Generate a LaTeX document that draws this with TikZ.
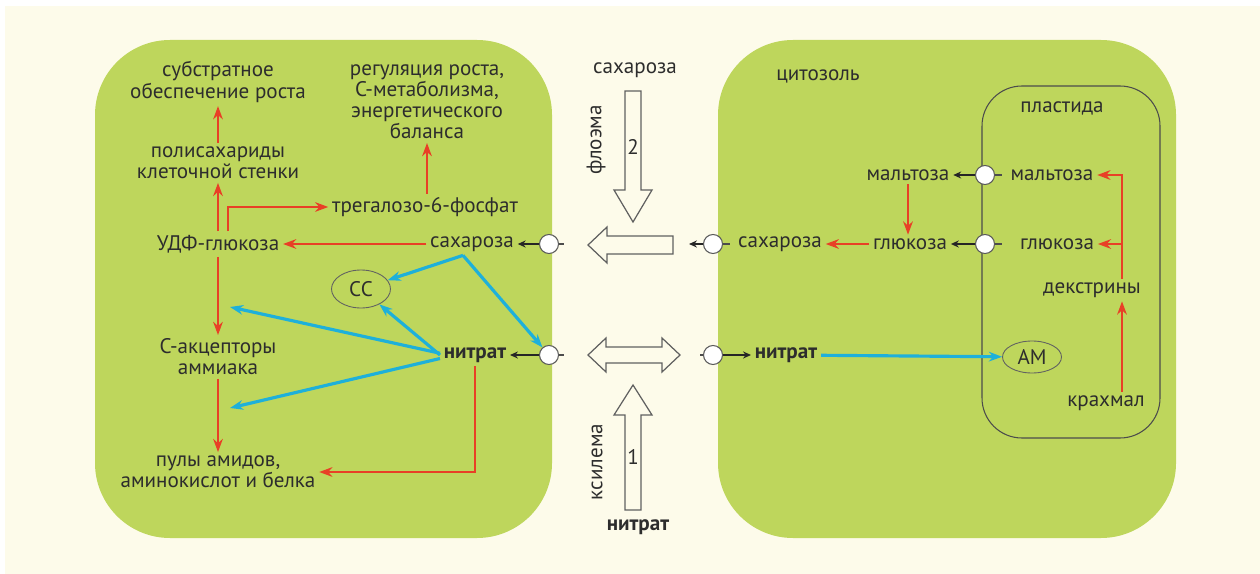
\documentclass[tikz,border=0pt]{standalone}
\usepackage{fontspec}
\setmainfont{PT Sans}
\usetikzlibrary{positioning}
\usetikzlibrary{shapes.geometric, arrows.meta}
\definecolor{cream}{RGB}{253,251,234}
\definecolor{leaf}{RGB}{190,214,92}
\definecolor{redC}{RGB}{232,64,38}
\definecolor{blueC}{RGB}{30,176,218}
\definecolor{txt}{RGB}{45,45,45}
\tikzset{
    objText/.style={text=txt, align=center, inner sep=2pt},
    objBold/.style={text=txt, font=\fontsize{12}{12}\selectfont\bfseries, inner sep=2pt},
    objEllipse/.style={ellipse, draw=txt!75, line width=0.5pt, minimum width=1.18cm, minimum height=0.76cm, inner sep=0pt, text=txt},
    objPorter/.style={circle, draw=gray!70!black, fill=white, line width=0.6pt, minimum size=0.38cm, inner sep=0pt},
    cellBox/.style={fill=leaf, rounded corners=1.5cm},
    bigArrow/.style={draw=gray!75!black, fill=cream, line width=0.7pt, line join=miter},
    arrowRed/.style={draw=redC, line width=1.5pt, -{Stealth[length=7.5pt,width=5.5pt]}},
    arrowBlue/.style={draw=blueC, line width=1.8pt, -{Stealth[length=7.5pt,width=5.5pt]}},
    arrowPorter/.style={draw=black!85, line width=0.9pt, -{Stealth[length=4.5pt,width=4pt]}},
    stub/.style={draw=black!70, line width=0.9pt}
}

\begin{document}
\begin{tikzpicture}[x=0.02cm, y=-0.02cm, font=\fontsize{12}{12}\selectfont]
    \useasboundingbox (0,0) rectangle (1260,574);
    \fill[white] (0,0) rectangle (1260,574);
    \fill[cream] (5,6) rectangle (1260,574);
    \fill[cellBox] (95,40) rectangle (552,538);
    \fill[cellBox] (718,40) rectangle (1176,538);
    \draw[draw=gray!60!black, line width=0.6pt, rounded corners=0.8cm] (982,86) rectangle (1160,438);

    % left cell
    \node (subst) [objText] at (218,82) {субстратное\\обеспечение роста};
    \node (regul) [objText] at (427,102) {регуляция роста,\\С-метаболизма,\\энергетического\\баланса};
    \node (poly) [objText] at (218,163) {полисахариды\\клеточной стенки};
    \node (treh) [objText] at (425,207) {трегалозо-6-фосфат};
    \node (udp) [objText] at (218,244) {УДФ-глюкоза};
    \node (sucL) [objText] at (472,244) {сахароза};
    \node (cc) [objEllipse] at (361,289) {СС};
    \node (acc) [objText] at (218,357) {С-акцепторы\\аммиака};
    \node (nitL) [objBold] at (475,355) {нитрат};
    \node (pool) [objText] at (218,472) {пулы амидов,\\аминокислот и белка};
    \coordinate (accIn) at (230,307);
    \coordinate (accOut) at (230,408);

    % right cell
    \node (cyto) [objText] at (818,76) {цитозоль};
    \node (plast) [objText] at (1062,108) {пластида};
    \node (maltC) [objText] at (908,175) {мальтоза};
    \node (maltP) [objText] at (1052,175) {мальтоза};
    \node (sucR) [objText] at (780,244) {сахароза};
    \node (glcC) [objText] at (910,244) {глюкоза};
    \node (glcP) [objText] at (1057,244) {глюкоза};
    \node (dex) [objText] at (1092,290) {декстрины};
    \node (am) [objEllipse, minimum height=0.64cm] at (1032,357) {АМ};
    \node (starch) [objText] at (1106,403) {крахмал};
    \node (nitR) [objBold] at (786,355) {нитрат};
    \coordinate (pcol) at (1122,0);

    % transporters
    \node (pSucL) [objPorter] at (549,244) {};
    \node (pNitL) [objPorter] at (549,355) {};
    \node (pSucR) [objPorter] at (713,244) {};
    \node (pNitR) [objPorter] at (713,355) {};
    \node (pMalt) [objPorter] at (985,175) {};
    \node (pGlc) [objPorter] at (985,244) {};
    \coordinate (sSucL) at (564,244);
    \coordinate (sNitL) at (564,355);
    \coordinate (aSucR) at (689,244);
    \coordinate (sSucR) at (730,244);
    \coordinate (sNitR) at (700,355);
    \coordinate (sMalt) at (1002,175);
    \coordinate (sGlc) at (1002,244);
    \draw[stub] (pSucL) -- (sSucL);
    \draw[arrowPorter] (pSucL) -- (sucL);
    \draw[stub] (pNitL) -- (sNitL);
    \draw[arrowPorter] (pNitL) -- (nitL);
    \draw[arrowPorter] (pSucR) -- (aSucR);
    \draw[stub] (pSucR) -- (sSucR);
    \draw[stub] (pNitR) -- (sNitR);
    \draw[arrowPorter] (pNitR) -- (nitR);
    \draw[arrowPorter] (pMalt) -- (maltC);
    \draw[stub] (pMalt) -- (sMalt);
    \draw[arrowPorter] (pGlc) -- (glcC);
    \draw[stub] (pGlc) -- (sGlc);

    % transport between cells
    \draw[bigArrow] (588,245) -- (607,227) -- (607,236) -- (673,236) -- (673,254) -- (607,254) -- (607,263) -- cycle;
    \draw[bigArrow] (588,355) -- (606,338) -- (606,347) -- (662,347) -- (662,338) -- (680,355) -- (662,372) -- (662,363) -- (606,363) -- (606,372) -- cycle;
    \draw[bigArrow] (625,91) -- (641,91) -- (641,190) -- (652,190) -- (633,222) -- (614,190) -- (625,190) -- cycle;
    \draw[bigArrow] (625,510) -- (641,510) -- (641,415) -- (652,415) -- (633,385) -- (614,415) -- (625,415) -- cycle;
    \node (sucTop) [objText] at (635,70) {сахароза};
    \node (num2) [objText] at (633,147) {2};
    \node (phloem) [objText, rotate=90] at (596,140) {флоэма};
    \node (num1) [objText] at (633,457) {1};
    \node (xylem) [objText, rotate=90] at (597,462) {ксилема};
    \node (nitB) [objBold] at (638,527) {нитрат};

    % red paths
    \draw[arrowRed] (poly) -- (subst);
    \draw[arrowRed] (udp) -- (poly);
    \draw[arrowRed] ([xshift=2mm]udp.north) |- (treh);
    \draw[arrowRed] (treh.north -| regul) -- (regul);
    \draw[arrowRed] (sucL) -- (udp);
    \draw[arrowRed] (udp) -- (acc);
    \draw[arrowRed] (acc) -- (pool);
    \draw[arrowRed] (nitL) |- (pool);
    \draw[arrowRed] (maltC.south) -- (maltC.south |- glcC.north);
    \draw[arrowRed] (glcC) -- (sucR);
    \draw[arrowRed] (starch.north -| pcol) -- (dex.south -| pcol);
    \draw[arrowRed] (dex.north -| pcol) |- (maltP);
    \draw[arrowRed] (pcol |- glcP) -- (glcP);

    % blue paths
    \draw[arrowBlue] ([xshift=-1.8mm]sucL.south) -- (cc);
    \draw[arrowBlue] ([xshift=-1.8mm]sucL.south) -- (pNitL);
    \draw[arrowBlue] (nitL.west) -- (cc);
    \draw[arrowBlue] ([yshift=1pt]nitL.west) -- (accIn);
    \draw[arrowBlue] ([yshift=-2pt]nitL.west) -- (accOut);
    \draw[arrowBlue] (nitR) -- (am);
\end{tikzpicture}
\end{document}
